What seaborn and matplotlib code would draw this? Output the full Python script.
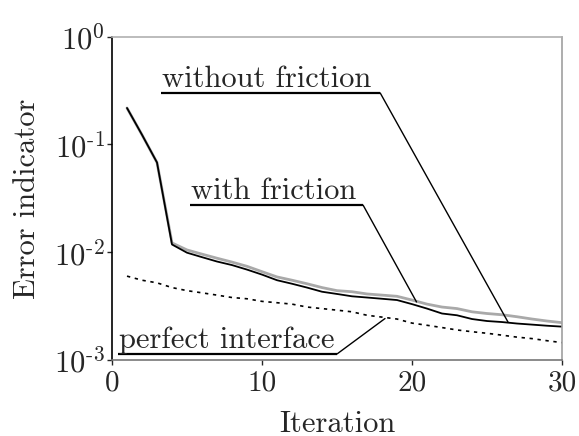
import matplotlib
matplotlib.use("Agg")
import matplotlib.pyplot as plt
import seaborn as sns
import pandas as pd

iterations = list(range(1, 31))
without_friction = [0.218, 0.123, 0.068, 0.0118, 0.0099, 0.0090, 0.0082, 0.0076, 0.0069, 0.0062,
                    0.0055, 0.0051, 0.0047, 0.0043, 0.0041, 0.0039, 0.0038, 0.0037, 0.0036, 0.0033,
                    0.0030, 0.0027, 0.0026, 0.0024, 0.0023, 0.00225, 0.00218, 0.00213, 0.00208, 0.00204]
with_friction = [0.218, 0.123, 0.068, 0.0122, 0.0105, 0.0096, 0.0088, 0.0081, 0.0074, 0.0066,
                 0.0059, 0.0055, 0.0051, 0.0047, 0.0044, 0.0043, 0.0041, 0.0040, 0.0039, 0.0036,
                 0.0033, 0.0031, 0.0030, 0.0028, 0.0027, 0.00263, 0.00252, 0.0024, 0.0023, 0.00222]
perfect_interface = [0.0060, 0.0055, 0.0052, 0.0047, 0.0044, 0.0042, 0.0040, 0.0038, 0.0037, 0.0035,
                     0.0034, 0.0033, 0.0031, 0.0030, 0.0029, 0.0028, 0.0026, 0.0025, 0.0024, 0.0022,
                     0.0021, 0.0020, 0.0019, 0.00183, 0.00177, 0.0017, 0.00163, 0.00158, 0.00151, 0.00145]

x_ticks = [0, 10, 20, 30]
x_tick_labels = ["0", "10", "20", "30"]
y_ticks = [1e-3, 1e-2, 1e-1, 1e0]
y_tick_labels = [r"$10^{\text{-}3}$", r"$10^{\text{-}2}$", r"$10^{\text{-}1}$", r"$10^{0}$"]
x_label = "Iteration"
y_label = "Error indicator"
label_without = "without friction"
label_with = "with friction"
label_perfect = "perfect interface"

sns.set_style("white")
plt.rcParams["font.family"] = ["cmr10", "DejaVu Serif"]
plt.rcParams["mathtext.fontset"] = "cm"
plt.rcParams["axes.formatter.use_mathtext"] = True

df = pd.DataFrame({"Iteration": iterations, "without": without_friction,
                   "with": with_friction, "perfect": perfect_interface})

fig = plt.figure(figsize=(5.79, 4.36), dpi=100)
ax = fig.add_axes([112 / 579, 1 - 360 / 436, 450 / 579, 323.3 / 436])

sns.lineplot(data=df, x="Iteration", y="with", color="#a9a9a9", linewidth=2.0, ax=ax)
sns.lineplot(data=df, x="Iteration", y="without", color="black", linewidth=1.3, ax=ax)
sns.lineplot(data=df, x="Iteration", y="perfect", color="black", linewidth=1.2, ax=ax)
ax.lines[-1].set_dashes((2, 2.8))

ax.set_yscale("log")
ax.set_xlim(0, 30)
ax.set_ylim(1e-3, 1e0)
ax.set_xticks(x_ticks)
ax.set_xticklabels(x_tick_labels)
ax.set_yticks(y_ticks)
ax.set_yticklabels(y_tick_labels)
ax.yaxis.set_minor_locator(matplotlib.ticker.NullLocator())
ax.tick_params(axis="both", which="major", direction="out", length=3.5, width=1,
               bottom=True, left=True, top=False, right=False)
ax.tick_params(axis="x", pad=4, labelsize=21)
ax.tick_params(axis="y", pad=1.5, labelsize=22)

ax.set_xlabel(x_label, fontsize=22)
ax.set_ylabel(y_label, fontsize=22)
ax.xaxis.set_label_coords(0.5, -0.155)
ax.yaxis.set_label_coords(-0.158, 0.5)

ax.spines["left"].set_color("black")
ax.spines["bottom"].set_color("#777777")
ax.spines["top"].set_color("#b0b0b0")
ax.spines["right"].set_color("#a0a0a0")
for s in ax.spines.values():
    s.set_linewidth(1.2)

data_to_axes = ax.transData + ax.transAxes.inverted()


def callout(text, x0, x1, y, text_y, target):
    ax.text(x0 + 0.002, text_y, text, transform=ax.transAxes, fontsize=22,
            ha="left", va="baseline")
    tx, ty = data_to_axes.transform(target)
    ax.plot([x0, x1], [y, y], transform=ax.transAxes, color="black",
            linewidth=1.6, clip_on=False, solid_capstyle="butt")
    ax.plot([x1, tx], [y, ty], transform=ax.transAxes, color="black",
            linewidth=1.0, clip_on=False)


callout(label_without, 0.109, 0.596, 0.826, 0.843, (26.4, without_friction[25]))
callout(label_with, 0.173, 0.558, 0.479, 0.498, (20.3, with_friction[19] * 0.96))
callout(label_perfect, 0.0133, 0.50, 0.0186, 0.036, (18.2, perfect_interface[17] * 0.97))

fig.savefig("out.png", dpi=100)
